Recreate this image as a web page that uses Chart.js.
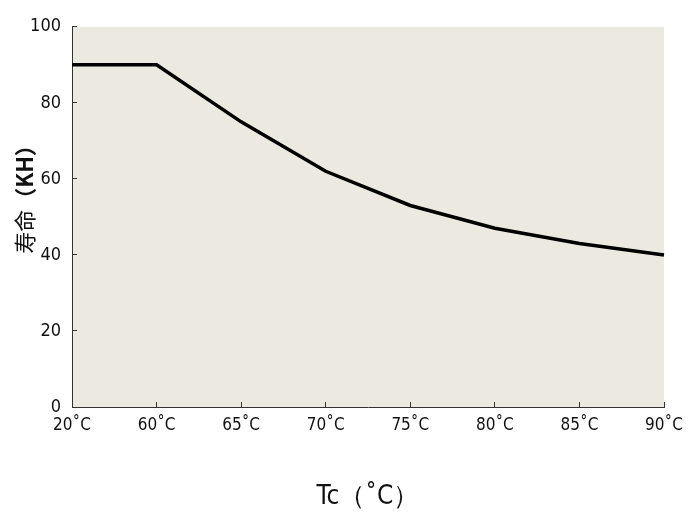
<!DOCTYPE html>
<html>
<head>
<meta charset="utf-8">
<script src="https://cdn.jsdelivr.net/npm/chart.js@4"></script>
<style>
  html, body { margin: 0; padding: 0; background: #ffffff; }
  #wrap { width: 696px; height: 513px; }
</style>
</head>
<body>
<div id="wrap"><canvas id="life-chart" width="696" height="513"></canvas></div>
<script>
// data
var categories = ["20˚C", "60˚C", "65˚C", "70˚C", "75˚C", "80˚C", "85˚C", "90˚C"];
var lifeKH = [90, 90, 75, 62, 53, 47, 43, 40];
var yTicks = [0, 20, 40, 60, 80, 100];

var narrow = "'Liberation Sans Narrow', 'DejaVu Sans', sans-serif";

// beige plot area
var areaBg = {
	id: "areaBg",
	beforeDraw: function(chart) {
		var a = chart.chartArea, c = chart.ctx;
		c.save();
		c.fillStyle = "#ECEAE0";
		c.fillRect(a.left, a.top, a.right - a.left, a.bottom - a.top);
		c.restore();
	}
};

// y title (寿命 plain, KH bold) and the clipped title at the top
var extraText = {
	id: "extraText",
	afterDraw: function(chart) {
		var c = chart.ctx;
		var partA = "寿命", partB = "（KH）";
		var fA = "22px 'Noto Sans CJK SC', sans-serif";
		var fB = "bold 22px 'Noto Sans CJK SC', sans-serif";
		c.save();
		c.fillStyle = "#111";
		c.textBaseline = "middle";
		c.textAlign = "left";
		c.font = fA;
		var wA = c.measureText(partA).width;
		c.font = fB;
		var wB = c.measureText(partB).width;
		c.translate(25, 194);
		c.rotate(-Math.PI / 2);
		var start = -(wA + wB) / 2;
		c.font = fA;
		c.fillText(partA, start, 0);
		c.font = fB;
		c.fillText(partB, start + wA, 0);
		c.restore();

		c.save();
		c.fillStyle = "#111";
		c.textAlign = "center";
		c.textBaseline = "alphabetic";
		c.font = "20px 'Noto Sans CJK SC', sans-serif";
		c.fillText("寿命曲线（Tc）", 343, -2);
		c.restore();
	}
};

var ctx = document.getElementById("life-chart");

var chart = new Chart(ctx, {
	type: "line",
	data: {
		labels: categories,
		datasets: [{
			label: "寿命",
			data: lifeKH,
			borderColor: "#000000",
			backgroundColor: "#000000",
			borderWidth: 3.5,
			fill: false,
			tension: 0,
			pointRadius: 0
		}]
	},
	options: {
		responsive: false,
		animation: false,
		layout: { padding: { top: 20, right: 32, left: 0, bottom: 0 } },
		plugins: {
			legend: { display: false },
			tooltip: { enabled: false }
		},
		scales: {
			x: {
				offset: false,
				afterFit: function(s) { s.height = 106; },
				grid: { drawOnChartArea: false, tickLength: -5, color: "#333", offset: false },
				border: { display: true, color: "#333", width: 1 },
				ticks: {
					color: "#111",
					padding: 13,
					maxRotation: 0,
					autoSkip: false,
					font: { family: narrow, size: 17, weight: "condensed" }
				},
				title: {
					display: true,
					text: "Tc（˚C）",
					color: "#111",
					padding: { bottom: 0 },
					font: { family: narrow, size: 26, weight: "condensed" }
				}
			},
			y: {
				min: 0,
				max: 100,
				afterFit: function(s) { s.width = 72; },
				afterBuildTicks: function(s) {
					s.ticks = yTicks.map(function(v) { return { value: v }; });
				},
				grid: { drawOnChartArea: false, tickLength: -5, color: "#333" },
				border: { display: true, color: "#333", width: 1 },
				ticks: {
					color: "#111",
					padding: 16,
					font: { family: narrow, size: 18, weight: "condensed" }
				}
			}
		}
	},
	plugins: [areaBg, extraText]
});
</script>
</body>
</html>
